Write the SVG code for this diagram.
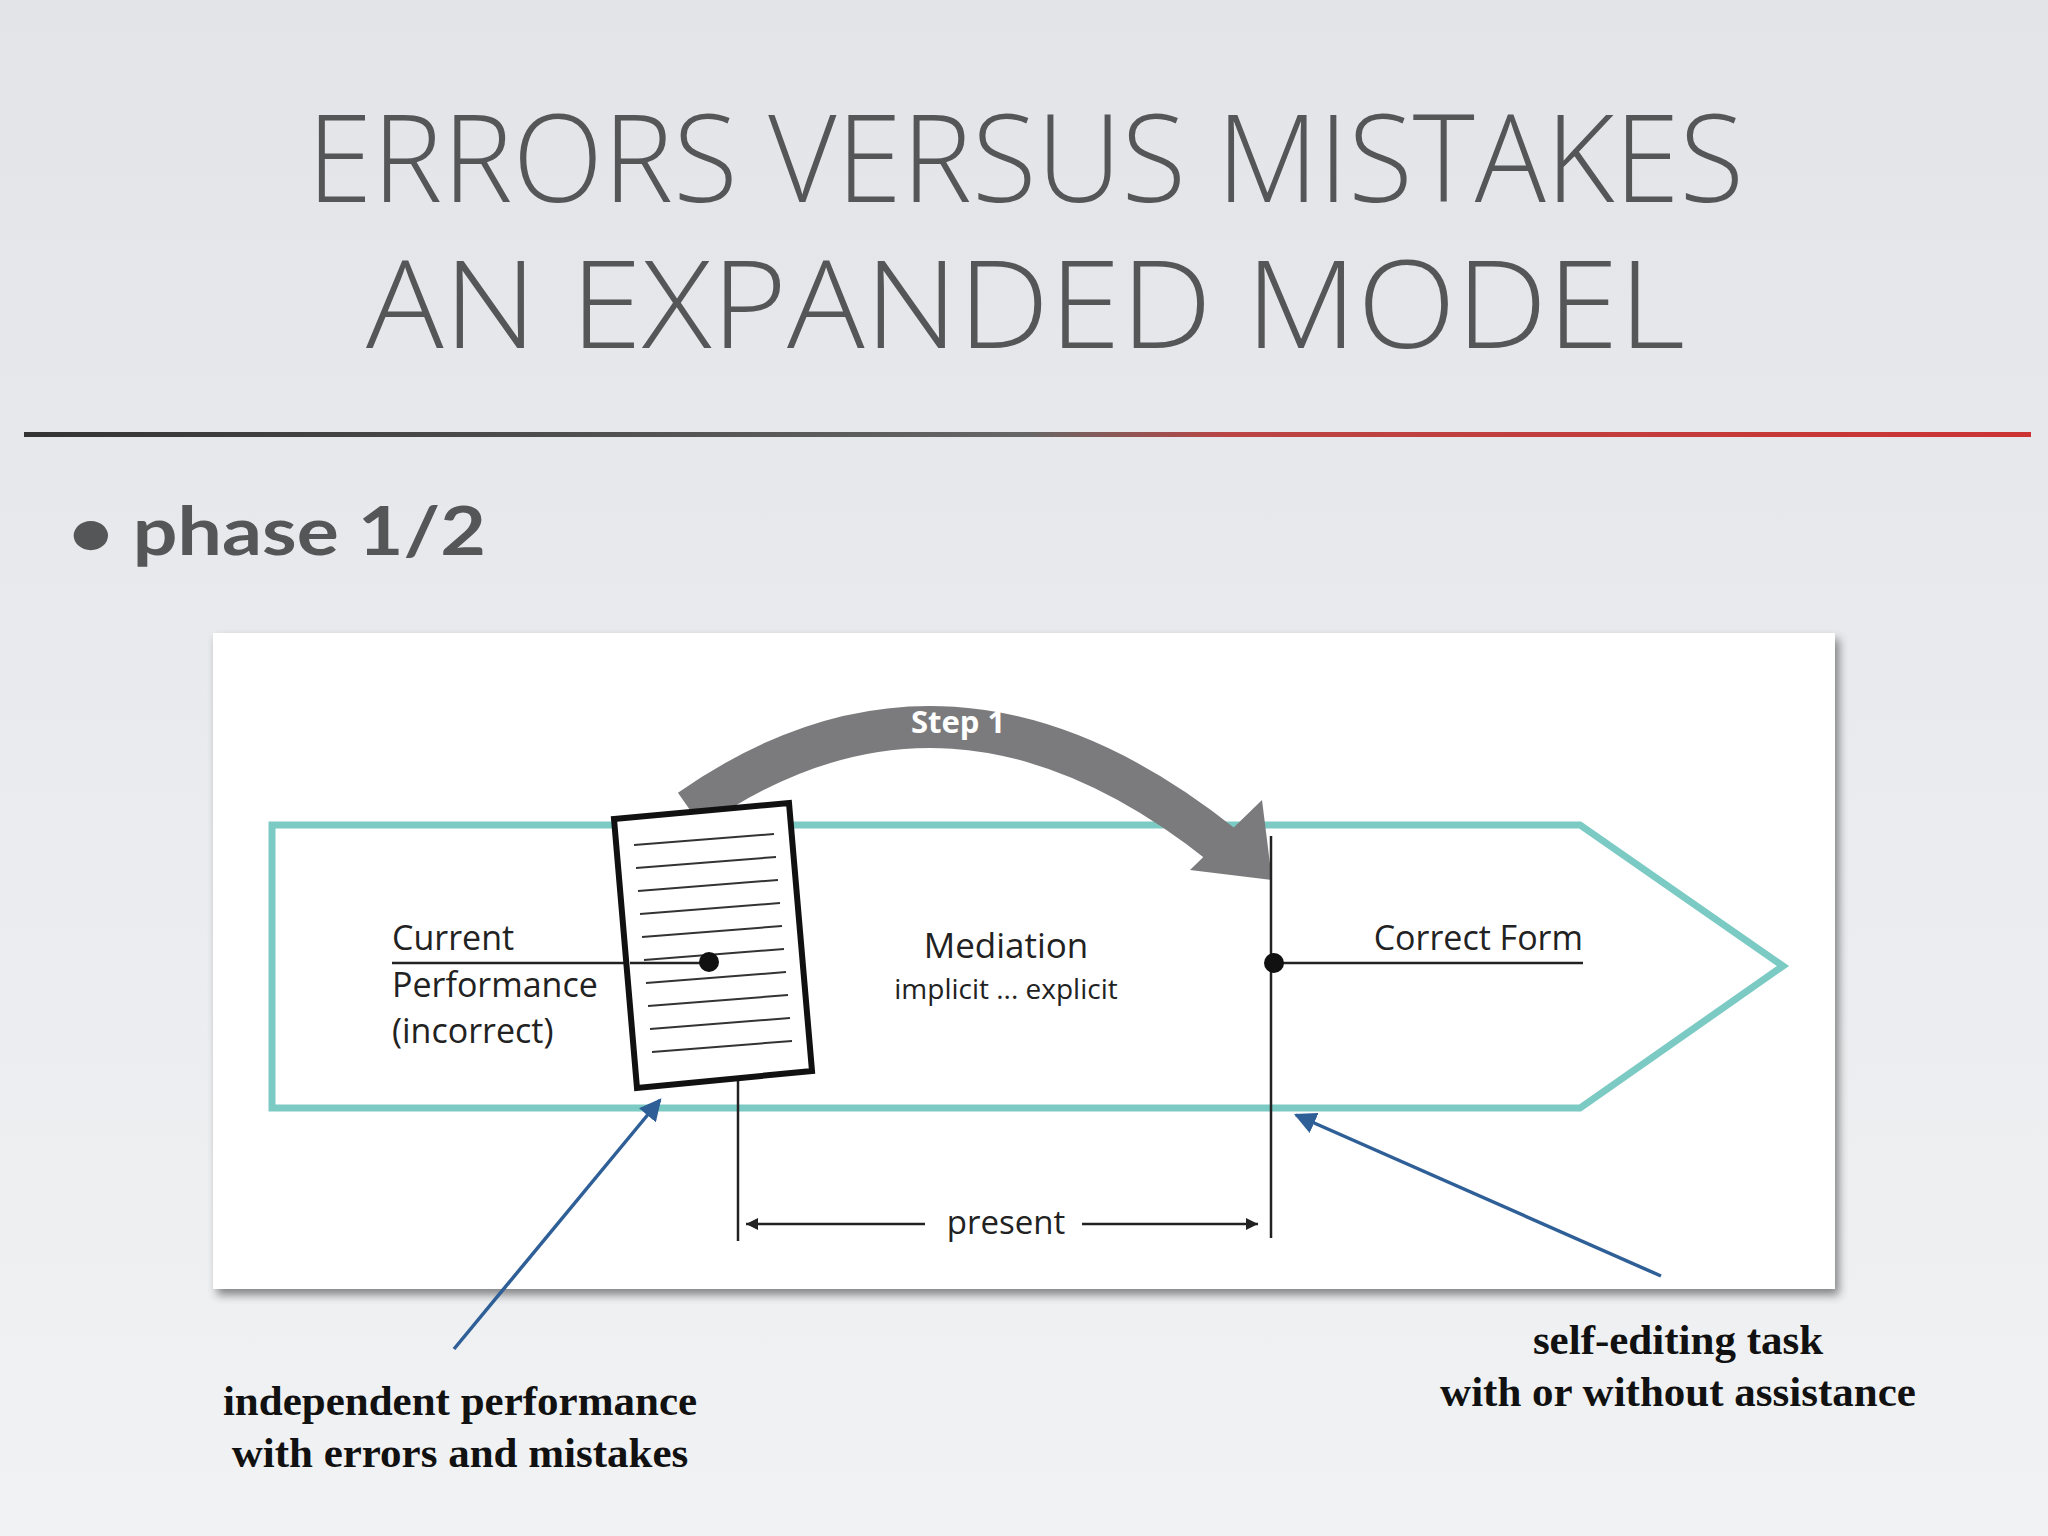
<svg xmlns="http://www.w3.org/2000/svg" width="2048" height="1536" viewBox="0 0 2048 1536">
<defs>
<linearGradient id="bg" x1="0" y1="0" x2="0" y2="1"><stop offset="0" stop-color="#e2e4e8"/><stop offset="1" stop-color="#f1f2f4"/></linearGradient>
<linearGradient id="rule" x1="0" y1="0" x2="1" y2="0"><stop offset="0" stop-color="#333"/><stop offset="0.5" stop-color="#666"/><stop offset="0.6" stop-color="#b44"/><stop offset="1" stop-color="#c33"/></linearGradient>
<filter id="sh" x="-5%" y="-5%" width="110%" height="115%"><feDropShadow dx="4" dy="6" stdDeviation="5" flood-color="#000" flood-opacity="0.45"/></filter>
<marker id="bk" viewBox="0 0 10 10" refX="10" refY="5" markerWidth="12" markerHeight="12" orient="auto-start-reverse" markerUnits="userSpaceOnUse"><path d="M0,0 L10,5 L0,10 z" fill="#222"/></marker>
<marker id="bl" viewBox="0 0 10 10" refX="9" refY="5" markerWidth="22" markerHeight="22" orient="auto" markerUnits="userSpaceOnUse"><path d="M0,0 L10,5 L0,10 z" fill="#2f5f97"/></marker>
</defs>
<style>
.t{font-family:"Open Sans","Liberation Sans",sans-serif;fill:#555658;font-weight:300;font-size:122px}
.d{font-family:"Open Sans","Liberation Sans",sans-serif;fill:#222}
.b{font-family:"Liberation Serif",serif;font-weight:bold;font-size:43px;fill:#111;text-anchor:middle}
.blue{stroke:#2f5f97;stroke-width:3.5;fill:none;marker-end:url(#bl)}
</style>
<rect width="2048" height="1536" fill="url(#bg)"/>
<g id="title">
<text class="t" x="307" y="202" textLength="1437" lengthAdjust="spacingAndGlyphs">ERRORS VERSUS MISTAKES</text>
<text class="t" x="366" y="348" textLength="1319" lengthAdjust="spacingAndGlyphs">AN EXPANDED MODEL</text>
</g>
<rect x="24" y="432" width="2007" height="5" fill="url(#rule)"/>
<text x="68" y="555" font-family="Lato,'Open Sans',sans-serif" font-weight="bold" font-size="66" fill="#555658" textLength="418" lengthAdjust="spacingAndGlyphs">• phase 1/2</text>
<g id="panel">
<rect x="213" y="633" width="1622" height="656" fill="#fff" filter="url(#sh)"/>
</g>
<g id="pentagon">
<path d="M272,825 L1580,825 L1783,966 L1580,1108 L272,1108 Z" fill="none" stroke="#7ccac4" stroke-width="7"/>
</g>
<g id="step1">
<path d="M690,810 Q950,628 1222,845" fill="none" stroke="#7b7b7d" stroke-width="42"/>
<path d="M1190,870 L1262,800 L1272,880 Z" fill="#7b7b7d"/>
<text x="958" y="733" font-family="'Open Sans',sans-serif" font-weight="bold" font-size="31" fill="#fff" text-anchor="middle">Step 1</text>
</g>
<g id="connectors">
<line x1="392" y1="963" x2="709" y2="963" stroke="#222" stroke-width="2.5"/>
<line x1="1273" y1="963" x2="1583" y2="963" stroke="#222" stroke-width="2.5"/>
<line x1="1271" y1="836" x2="1271" y2="1238" stroke="#222" stroke-width="2.5"/>
<line x1="738" y1="1081" x2="738" y2="1241" stroke="#222" stroke-width="2.5"/>
<line x1="746" y1="1224" x2="925" y2="1224" stroke="#222" stroke-width="2.5" marker-start="url(#bk)"/>
<line x1="1082" y1="1224" x2="1258" y2="1224" stroke="#222" stroke-width="2.5" marker-end="url(#bk)"/>
<line class="blue" x1="454" y1="1349" x2="660" y2="1100"/>
<line class="blue" x1="1661" y1="1276" x2="1296" y2="1115"/>
</g>
<g id="document">
<path d="M614,819 L789,803 L812,1071 L637,1088 Z" fill="#fff" stroke="#111" stroke-width="6"/>
<g stroke="#333" stroke-width="2">
<line x1="634" y1="845" x2="774" y2="834"/><line x1="636" y1="868" x2="776" y2="857"/>
<line x1="638" y1="891" x2="778" y2="880"/><line x1="640" y1="914" x2="780" y2="903"/>
<line x1="642" y1="937" x2="782" y2="926"/><line x1="644" y1="960" x2="784" y2="949"/>
<line x1="646" y1="983" x2="786" y2="972"/><line x1="648" y1="1006" x2="788" y2="995"/>
<line x1="650" y1="1029" x2="790" y2="1018"/><line x1="652" y1="1052" x2="792" y2="1041"/>
</g>
<line x1="630" y1="963" x2="709" y2="963" stroke="#222" stroke-width="2.5"/>
<circle cx="709" cy="962" r="10" fill="#111"/>
</g>
<circle cx="1274" cy="963" r="10" fill="#111"/>
<g id="labels" class="d">
<text x="392" y="950" font-size="34">Current</text>
<text x="392" y="997" font-size="34">Performance</text>
<text x="392" y="1043" font-size="34">(incorrect)</text>
<text x="1006" y="958" font-size="35" text-anchor="middle">Mediation</text>
<text x="1006" y="999" font-size="28" text-anchor="middle">implicit ... explicit</text>
<text x="1583" y="950" font-size="34" text-anchor="end">Correct Form</text>
<text x="1006" y="1234" font-size="33" text-anchor="middle">present</text>
</g>
<g id="notes">
<text class="b" x="460" y="1415">independent performance</text>
<text class="b" x="460" y="1467">with errors and mistakes</text>
<text class="b" x="1678" y="1354">self-editing task</text>
<text class="b" x="1678" y="1406">with or without assistance</text>
</g>
</svg>
